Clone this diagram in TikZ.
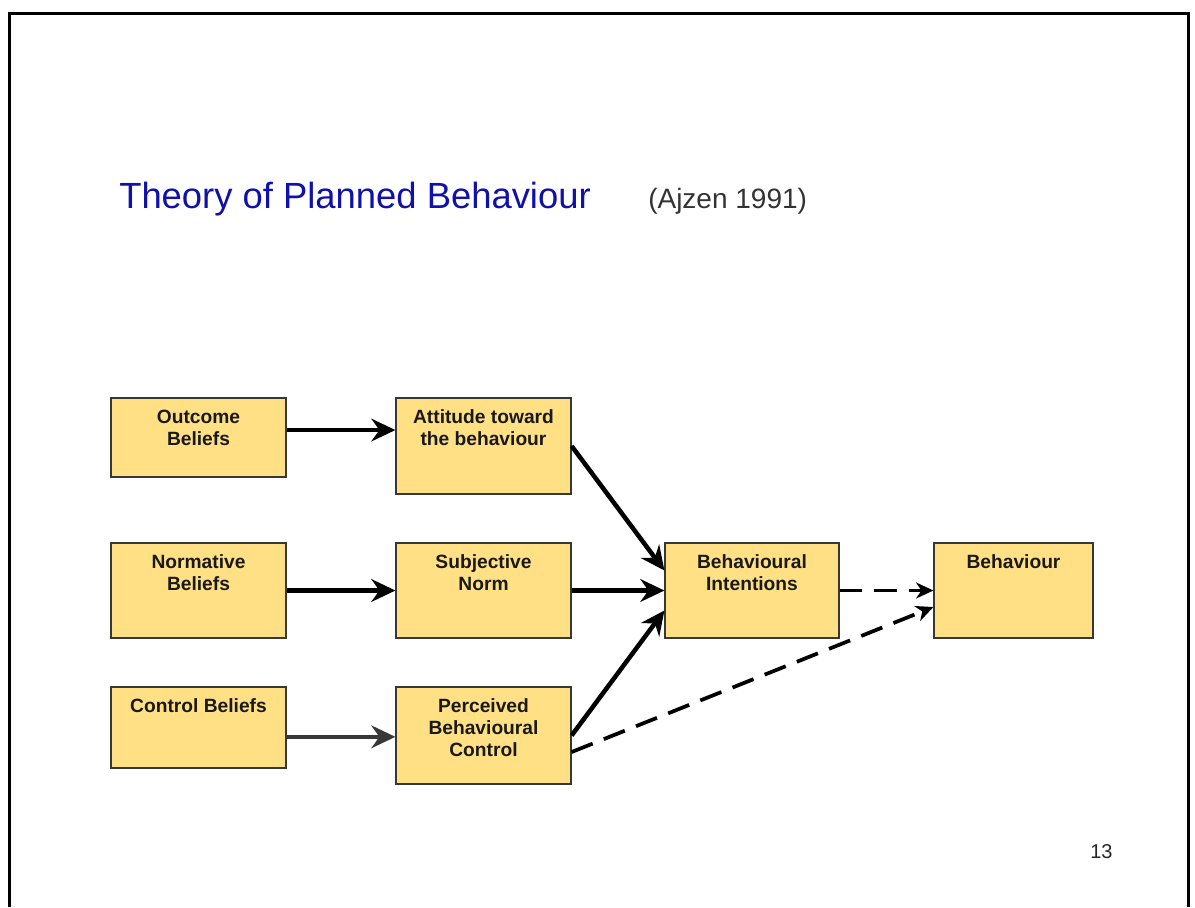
\documentclass[tikz,border=0pt]{standalone}
\usepackage{fontspec}
\setmainfont{Liberation Sans}
\usetikzlibrary{arrows.meta}
\definecolor{boxfill}{RGB}{255,224,133}
\definecolor{boxline}{RGB}{55,55,55}
\definecolor{titleblue}{RGB}{16,16,170}
\tikzset{
  tpb/.style={draw=boxline, fill=boxfill, line width=0.9pt, minimum width=131.25pt, inner sep=0pt},
  lbl/.style={anchor=north, align=center, inner sep=0pt, yshift=-9pt,
    font=\bfseries\fontsize{14.4}{16.5}\selectfont, text=black!90},
  link/.style={->, line width=3.4pt},
  maybe/.style={->, line width=2.8pt, dash pattern=on 17pt off 9pt,
    >={Stealth[length=13pt,width=12pt,inset=4pt]}},
}
\begin{document}
\begin{tikzpicture}[x=0.75pt, y=-0.75pt, >={Stealth[length=18pt,width=17pt,inset=6pt]}]
  \useasboundingbox (0,0) rectangle (1195,907);
  % slide frame
  \draw[line width=2.2pt] (9.5,907) -- (9.5,13.5) -- (1188.5,13.5) -- (1188.5,907);

  \node[anchor=base west, inner sep=0pt, text=titleblue, font=\fontsize{27.3}{30}\selectfont] (title) at (119,208) {Theory of Planned Behaviour};
  \node[anchor=base west, inner sep=0pt, text=black!80, font=\fontsize{21}{24}\selectfont] (ajzen) at (648,208) {(Ajzen 1991)};

  % boxes
  \node[tpb, minimum height=59.25pt] (ob) at (198.5,437.5) {};
  \node[lbl] (obt) at (ob.north) {Outcome\\Beliefs};
  \node[tpb, minimum height=72pt] (att) at (483.5,446) {};
  \node[lbl] (attt) at (att.north) {Attitude toward\\the behaviour};
  \node[tpb, minimum height=71.25pt] (nb) at (198.5,590.5) {};
  \node[lbl] (nbt) at (nb.north) {Normative\\Beliefs};
  \node[tpb, minimum height=71.25pt] (sn) at (483.5,590.5) {};
  \node[lbl] (snt) at (sn.north) {Subjective\\Norm};
  \node[tpb, minimum height=60.75pt] (cb) at (198.5,727.5) {};
  \node[lbl] (cbt) at (cb.north) {Control Beliefs};
  \node[tpb, minimum height=72.75pt] (pbc) at (483.5,735.5) {};
  \node[lbl] (pbct) at (pbc.north) {Perceived\\Behavioural\\Control};
  \node[tpb, minimum height=71.25pt, minimum width=130.5pt] (bi) at (752,590.5) {};
  \node[lbl] (bit) at (bi.north) {Behavioural\\Intentions};
  \node[tpb, minimum height=71.25pt, minimum width=119.25pt] (beh) at (1013.5,590.5) {};
  \node[lbl] (beht) at (beh.north) {Behaviour};

  % arrows
  \draw[link] ([yshift=5.6pt]ob.east) coordinate (obout) -- (obout -| att.west);
  \draw[link] (nb.east) -- (sn.west);
  \draw[link, black!78, line width=3pt] ([yshift=-7pt]cb.east) coordinate (cbout) -- (cbout -| pbc.west);
  \draw[link] (att.east) -- ([yshift=15pt]bi.west);
  \draw[link] (sn.east) -- (bi.west);
  \draw[link] (pbc.east) -- ([yshift=-15pt]bi.west);
  \draw[maybe] (bi.east) -- (beh.west);
  \draw[maybe] ([yshift=-12.4pt]pbc.east) -- ([yshift=-12.4pt]beh.west);

  \node[anchor=base west, inner sep=0pt, text=black!85, font=\fontsize{15}{18}\selectfont] (page) at (1090,858) {13};
\end{tikzpicture}
\end{document}
